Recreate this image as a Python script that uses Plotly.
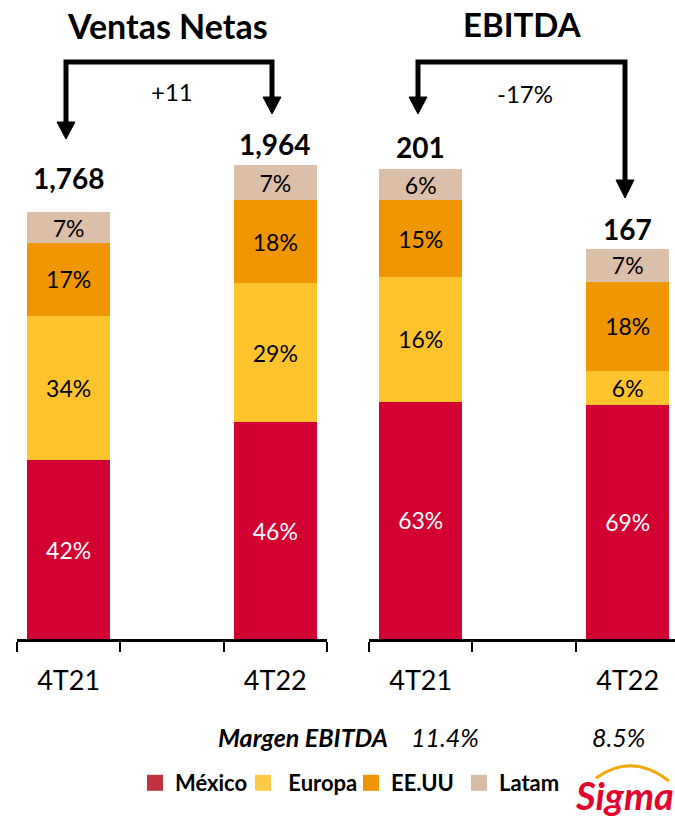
import plotly.graph_objects as go

# ---------------- data ----------------
categories = ["4T21", " ", "4T22"]
bar_cats = ["4T21", "4T22"]
regions = ["México", "Europa", "EE.UU", "Latam"]

ventas_mexico = [740, 898]
ventas_europa = [600, 577]
ventas_eeuu = [302, 344]
ventas_latam = [126, 145]
ventas_total = [1768, 1964]
ventas_pct_labels = {
    "México": ["42%", "46%"],
    "Europa": ["34%", "29%"],
    "EE.UU": ["17%", "18%"],
    "Latam": ["7%", "7%"],
}

ebitda_mexico = [101.5, 100.3]
ebitda_europa = [53.4, 14.5]
ebitda_eeuu = [32.9, 38.0]
ebitda_latam = [13.2, 14.2]
ebitda_total = [201, 167]
ebitda_pct_labels = {
    "México": ["63%", "69%"],
    "Europa": ["16%", "6%"],
    "EE.UU": ["15%", "18%"],
    "Latam": ["6%", "7%"],
}

total_labels_ventas = ["1,768", "1,964"]
total_labels_ebitda = ["201", "167"]
ventas_change = "+11"
ebitda_change = "-17%"
margen_labels = ["11.4%", "8.5%"]

# ---------------- styling ----------------
W, H = 675, 820
PLOT_BOTTOM = 639  # pixel row of the category axis
FONT = "Lato"
bar_colors = {"México": "#D30032", "Europa": "#FFC42D", "EE.UU": "#F09600", "Latam": "#DCBFA8"}
legend_colors = {"México": "#C3323F", "Europa": "#FFC845", "EE.UU": "#F09600", "Latam": "#D9BCA6"}
label_colors = {"México": "white", "Europa": "black", "EE.UU": "black", "Latam": "black"}


def px(x, y):
    """pixel -> paper coordinates"""
    return x / W, (PLOT_BOTTOM - y) / PLOT_BOTTOM


def path(points, close=False):
    s = ""
    for i, (x, y) in enumerate(points):
        X, Y = px(x, y)
        s += ("M" if i == 0 else " L") + f"{X:.5f},{Y:.5f}"
    if close:
        s += " Z"
    return s


fig = go.Figure()

ventas = {"México": ventas_mexico, "Europa": ventas_europa, "EE.UU": ventas_eeuu, "Latam": ventas_latam}
ebitda = {"México": ebitda_mexico, "Europa": ebitda_europa, "EE.UU": ebitda_eeuu, "Latam": ebitda_latam}

LABEL_SIZE = 23
for r in regions:
    fig.add_trace(go.Bar(
        x=bar_cats, y=ventas[r], xaxis="x", yaxis="y", width=0.8,
        marker=dict(color=bar_colors[r], line=dict(width=0)),
        text=ventas_pct_labels[r], textposition="inside", insidetextanchor="middle",
        textangle=0, textfont=dict(family=FONT, size=LABEL_SIZE, color=label_colors[r]),
        showlegend=False, hoverinfo="skip",
    ))
for r in regions:
    fig.add_trace(go.Bar(
        x=bar_cats, y=ebitda[r], xaxis="x2", yaxis="y2", width=0.8,
        marker=dict(color=bar_colors[r], line=dict(width=0)),
        text=ebitda_pct_labels[r], textposition="inside", insidetextanchor="middle",
        textangle=0, textfont=dict(family=FONT, size=LABEL_SIZE, color=label_colors[r]),
        showlegend=False, hoverinfo="skip",
    ))

# legend entries
legend_names = {"México": "México", "Europa": "\u00a0Europa", "EE.UU": "EE.UU", "Latam": "Latam"}
for r in regions:
    fig.add_trace(go.Scatter(
        x=[None], y=[None], xaxis="x", yaxis="y", mode="markers", name=legend_names[r],
        marker=dict(symbol="square", size=16, color=legend_colors[r]), showlegend=True,
    ))

axis_common = dict(
    type="category", categoryorder="array", categoryarray=categories,
    showline=True, linecolor="black", linewidth=2.5,
    ticks="outside", ticklen=10, tickwidth=2, tickcolor="black", tickson="boundaries",
    ticklabelstandoff=16,
    tickfont=dict(family=FONT, size=27, color="black"), showgrid=False, zeroline=False,
    automargin=False, fixedrange=True,
)
yaxis_common = dict(showgrid=False, zeroline=False, showline=False, showticklabels=False,
                    ticks="", domain=[0, 1], automargin=False, fixedrange=True)

fig.update_layout(
    width=W, height=H,
    margin=dict(l=0, r=0, t=0, b=H - PLOT_BOTTOM, pad=0),
    paper_bgcolor="white", plot_bgcolor="white",
    barmode="stack", bargap=0.2,
    uniformtext=dict(minsize=LABEL_SIZE, mode="show"),
    font=dict(family=FONT, color="black"),
    xaxis=dict(domain=[17 / W, 327 / W], anchor="y", range=[-0.5, 2.5], **axis_common),
    xaxis2=dict(domain=[369 / W, 1.0], anchor="y2", range=[-0.5, 2.457], **axis_common),
    yaxis=dict(anchor="x", range=[0, PLOT_BOTTOM / 0.2413], **yaxis_common),
    yaxis2=dict(anchor="x2", range=[0, PLOT_BOTTOM / 2.337], **yaxis_common),
    legend=dict(orientation="h", x=135 / W, y=(PLOT_BOTTOM - 783) / PLOT_BOTTOM,
                xanchor="left", yanchor="middle", itemsizing="trace", traceorder="normal",
                entrywidth=63, entrywidthmode="pixels",
                font=dict(family=FONT, size=22, color="black", weight="bold"),
                bgcolor="rgba(0,0,0,0)", tracegroupgap=0),
    showlegend=True,
)

ann = []
# totals above bars
for cat, val, lab, sh in zip(bar_cats, ventas_total, total_labels_ventas, [34, 21]):
    ann.append(dict(x=cat, y=val, xref="x", yref="y", text=f"<b>{lab}</b>", showarrow=False,
                    yanchor="middle", yshift=sh, font=dict(family=FONT, size=28, color="black")))
for cat, val, lab, sh in zip(bar_cats, ebitda_total, total_labels_ebitda, [22, 20]):
    ann.append(dict(x=cat, y=val, xref="x2", yref="y2", text=f"<b>{lab}</b>", showarrow=False,
                    yanchor="middle", yshift=sh, font=dict(family=FONT, size=28, color="black")))


def text_at(x, y, text, size, **kw):
    X, Y = px(x, y)
    ann.append(dict(x=X, y=Y, xref="paper", yref="paper", text=text, showarrow=False,
                    xanchor="center", yanchor="middle",
                    font=dict(family=FONT, size=size, color=kw.pop("color", "black")), **kw))


text_at(167, 25, "<b>Ventas Netas</b>", 34)
text_at(522, 24, "<b>EBITDA</b>", 33)
text_at(172, 92, ventas_change, 24)
text_at(525, 93, ebitda_change, 24)
text_at(303, 737, "<b><i>Margen EBITDA</i></b>", 25)
text_at(445, 737, f"<i>{margen_labels[0]}</i>", 25)
text_at(618, 737, f"<i>{margen_labels[1]}</i>", 25)
text_at(624, 795, "<b><i>Sigma</i></b>", 38, color="#E3032D")
fig.update_layout(annotations=ann)

shapes = []
lw = 5
# Ventas bracket
shapes.append(dict(type="path", xref="paper", yref="paper",
                   path=path([(66, 123), (66, 62), (272, 62), (272, 98)]),
                   line=dict(color="black", width=lw)))
shapes.append(dict(type="path", xref="paper", yref="paper",
                   path=path([(57, 122), (75, 122), (66, 139)], close=True),
                   fillcolor="black", line=dict(color="black", width=1)))
shapes.append(dict(type="path", xref="paper", yref="paper",
                   path=path([(263, 97), (281, 97), (272, 114)], close=True),
                   fillcolor="black", line=dict(color="black", width=1)))
# EBITDA bracket
shapes.append(dict(type="path", xref="paper", yref="paper",
                   path=path([(418, 98), (418, 62), (625, 62), (625, 181)]),
                   line=dict(color="black", width=lw)))
shapes.append(dict(type="path", xref="paper", yref="paper",
                   path=path([(409, 97), (427, 97), (418, 114)], close=True),
                   fillcolor="black", line=dict(color="black", width=1)))
shapes.append(dict(type="path", xref="paper", yref="paper",
                   path=path([(616, 180), (634, 180), (625, 198)], close=True),
                   fillcolor="black", line=dict(color="black", width=1)))
# Sigma swoosh
x0, y0 = px(596, 778)
xc, yc = px(632, 752)
x1, y1 = px(669, 781)
shapes.append(dict(type="path", xref="paper", yref="paper",
                   path=f"M{x0:.5f},{y0:.5f} Q{xc:.5f},{yc:.5f} {x1:.5f},{y1:.5f}",
                   line=dict(color="#F5A800", width=3)))
fig.update_layout(shapes=shapes)

fig.write_html(
    "out.html",
    config={"displayModeBar": False},
    post_script="document.body.style.margin='0';document.body.style.padding='0';",
)
